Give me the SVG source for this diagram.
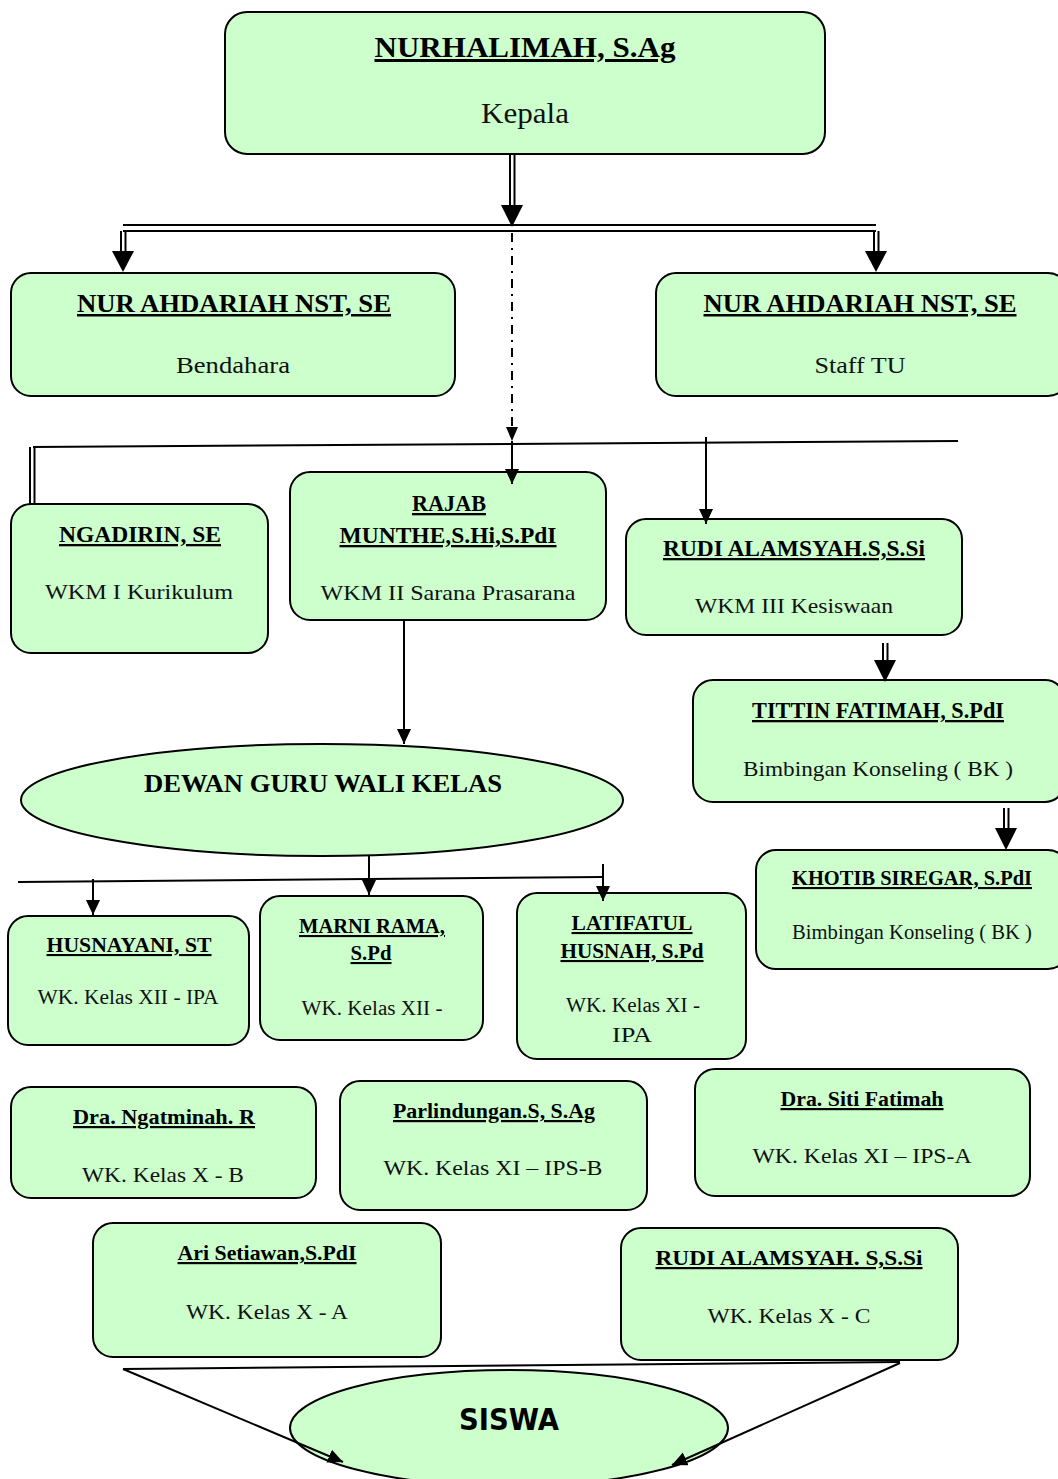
<svg xmlns="http://www.w3.org/2000/svg" width="1058" height="1479" viewBox="0 0 1058 1479">
<defs>
<style>
.box{fill:#ccffcc;stroke:#000;stroke-width:2}
.t{font-family:"Liberation Serif","Times New Roman",serif;font-weight:bold;text-decoration:underline;fill:#000;text-anchor:middle}
.s{font-family:"Liberation Serif","Times New Roman",serif;fill:#111;text-anchor:middle}
.ln{stroke:#000;stroke-width:2;fill:none}
.ah{fill:#000}
</style>
<marker id="arr" markerUnits="userSpaceOnUse" markerWidth="16" markerHeight="16" refX="15" refY="7" orient="auto"><path d="M0,0 L15,7 L0,14 z" fill="#000"/></marker>
</defs>
<rect width="1058" height="1479" fill="#fff"/>
<g id="kepala"><rect class="box" x="225" y="12" width="600" height="142" rx="22"/>
<text class="t" x="525" y="57" font-size="30" textLength="301" lengthAdjust="spacingAndGlyphs">NURHALIMAH, S.Ag</text>
<text class="s" x="525" y="123" font-size="29" textLength="88" lengthAdjust="spacingAndGlyphs">Kepala</text></g>
<g id="bendahara"><rect class="box" x="11" y="273" width="444" height="123" rx="20"/>
<text class="t" x="234" y="312" font-size="25" textLength="314" lengthAdjust="spacingAndGlyphs">NUR AHDARIAH NST, SE</text>
<text class="s" x="233" y="373" font-size="24" textLength="114" lengthAdjust="spacingAndGlyphs">Bendahara</text></g>
<g id="stafftu"><rect class="box" x="656" y="273" width="412" height="123" rx="20"/>
<text class="t" x="860" y="312" font-size="25" textLength="313" lengthAdjust="spacingAndGlyphs">NUR AHDARIAH NST, SE</text>
<text class="s" x="860" y="373" font-size="24" textLength="91" lengthAdjust="spacingAndGlyphs">Staff TU</text></g>
<g id="ngadirin"><rect class="box" x="11" y="504" width="257" height="149" rx="20"/>
<text class="t" x="140" y="542" font-size="23" textLength="162" lengthAdjust="spacingAndGlyphs">NGADIRIN, SE</text>
<text class="s" x="139" y="599" font-size="22" textLength="188" lengthAdjust="spacingAndGlyphs">WKM I Kurikulum</text></g>
<g id="rajab"><rect class="box" x="290" y="472" width="316" height="148" rx="20"/>
<text class="t" x="449" y="511" font-size="23" textLength="74" lengthAdjust="spacingAndGlyphs">RAJAB</text>
<text class="t" x="448" y="543" font-size="23" textLength="217" lengthAdjust="spacingAndGlyphs">MUNTHE,S.Hi,S.PdI</text>
<text class="s" x="448" y="600" font-size="22" textLength="255" lengthAdjust="spacingAndGlyphs">WKM II Sarana Prasarana</text></g>
<g id="rudi1"><rect class="box" x="626" y="519" width="336" height="116" rx="20"/>
<text class="t" x="794" y="556" font-size="23" textLength="262" lengthAdjust="spacingAndGlyphs">RUDI ALAMSYAH.S,S.Si</text>
<text class="s" x="794" y="613" font-size="22" textLength="198" lengthAdjust="spacingAndGlyphs">WKM III Kesiswaan</text></g>
<g id="tittin"><rect class="box" x="693" y="680" width="372" height="122" rx="20"/>
<text class="t" x="878" y="718" font-size="23" textLength="252" lengthAdjust="spacingAndGlyphs">TITTIN FATIMAH, S.PdI</text>
<text class="s" x="878" y="776" font-size="22" textLength="270" lengthAdjust="spacingAndGlyphs">Bimbingan Konseling ( BK )</text></g>
<g id="khotib"><rect class="box" x="756" y="850" width="312" height="119" rx="20"/>
<text class="t" x="912" y="885" font-size="21" textLength="240" lengthAdjust="spacingAndGlyphs">KHOTIB SIREGAR, S.PdI</text>
<text class="s" x="912" y="939" font-size="20" textLength="240" lengthAdjust="spacingAndGlyphs">Bimbingan Konseling ( BK )</text></g>
<g id="dewan"><ellipse class="box" cx="322" cy="800" rx="301" ry="56"/>
<text class="t" x="323" y="792" font-size="26" style="text-decoration:none" textLength="358" lengthAdjust="spacingAndGlyphs">DEWAN GURU WALI KELAS</text></g>
<g id="husnayani"><rect class="box" x="8" y="916" width="241" height="129" rx="20"/>
<text class="t" x="129" y="952" font-size="21" textLength="165" lengthAdjust="spacingAndGlyphs">HUSNAYANI, ST</text>
<text class="s" x="128" y="1004" font-size="20" textLength="181" lengthAdjust="spacingAndGlyphs">WK. Kelas XII - IPA</text></g>
<g id="marni"><rect class="box" x="260" y="896" width="223" height="144" rx="20"/>
<text class="t" x="372" y="933" font-size="21" textLength="146" lengthAdjust="spacingAndGlyphs">MARNI RAMA,</text>
<text class="t" x="371" y="960" font-size="21" textLength="41" lengthAdjust="spacingAndGlyphs">S.Pd</text>
<text class="s" x="372" y="1015" font-size="20" textLength="141" lengthAdjust="spacingAndGlyphs">WK. Kelas XII -</text></g>
<g id="latifatul"><rect class="box" x="517" y="893" width="229" height="166" rx="20"/>
<text class="t" x="632" y="930" font-size="21" textLength="121" lengthAdjust="spacingAndGlyphs">LATIFATUL</text>
<text class="t" x="632" y="958" font-size="21" textLength="143" lengthAdjust="spacingAndGlyphs">HUSNAH, S.Pd</text>
<text class="s" x="633" y="1012" font-size="20" textLength="134" lengthAdjust="spacingAndGlyphs">WK. Kelas XI -</text>
<text class="s" x="632" y="1042" font-size="21" textLength="40" lengthAdjust="spacingAndGlyphs">IPA</text></g>
<g id="ngatminah"><rect class="box" x="11" y="1087" width="305" height="111" rx="20"/>
<text class="t" x="164" y="1124" font-size="22" textLength="182" lengthAdjust="spacingAndGlyphs">Dra. Ngatminah. R</text>
<text class="s" x="163" y="1182" font-size="22" textLength="162" lengthAdjust="spacingAndGlyphs">WK. Kelas X - B</text></g>
<g id="parlindungan"><rect class="box" x="340" y="1081" width="307" height="129" rx="20"/>
<text class="t" x="494" y="1118" font-size="22" textLength="202" lengthAdjust="spacingAndGlyphs">Parlindungan.S, S.Ag</text>
<text class="s" x="493" y="1175" font-size="22" textLength="219" lengthAdjust="spacingAndGlyphs">WK. Kelas XI – IPS-B</text></g>
<g id="siti"><rect class="box" x="695" y="1069" width="335" height="127" rx="20"/>
<text class="t" x="862" y="1106" font-size="22" textLength="163" lengthAdjust="spacingAndGlyphs">Dra. Siti Fatimah</text>
<text class="s" x="862" y="1163" font-size="22" textLength="219" lengthAdjust="spacingAndGlyphs">WK. Kelas XI – IPS-A</text></g>
<g id="ari"><rect class="box" x="93" y="1223" width="348" height="134" rx="20"/>
<text class="t" x="267" y="1260" font-size="22" textLength="179" lengthAdjust="spacingAndGlyphs">Ari Setiawan,S.PdI</text>
<text class="s" x="267" y="1319" font-size="22" textLength="162" lengthAdjust="spacingAndGlyphs">WK. Kelas X - A</text></g>
<g id="rudi2"><rect class="box" x="621" y="1228" width="337" height="132" rx="20"/>
<text class="t" x="789" y="1265" font-size="22" textLength="267" lengthAdjust="spacingAndGlyphs">RUDI ALAMSYAH. S,S.Si</text>
<text class="s" x="789" y="1323" font-size="22" textLength="163" lengthAdjust="spacingAndGlyphs">WK. Kelas X - C</text></g>
<g id="siswa"><ellipse class="box" cx="509" cy="1428" rx="219" ry="58"/>
<text x="509" y="1430" font-family="'DejaVu Sans',sans-serif" font-weight="bold" font-size="30" text-anchor="middle" textLength="100" lengthAdjust="spacingAndGlyphs">SISWA</text></g>
<g id="connectors">
<line class="ln" x1="510" y1="154" x2="510" y2="206"/><line class="ln" x1="514.5" y1="154" x2="514.5" y2="206"/>
<polygon class="ah" points="501,205 523,205 512,227"/>
<line class="ln" x1="123" y1="225" x2="876" y2="225"/><line class="ln" x1="123" y1="231" x2="876" y2="231"/>
<line class="ln" x1="121" y1="231" x2="121" y2="253"/><line class="ln" x1="125.5" y1="231" x2="125.5" y2="253"/>
<polygon class="ah" points="112,251 134,251 123,272"/>
<line class="ln" x1="874" y1="231" x2="874" y2="253"/><line class="ln" x1="878.5" y1="231" x2="878.5" y2="253"/>
<polygon class="ah" points="865,251 887,251 876,272"/>
<line class="ln" x1="512" y1="233" x2="512" y2="428" stroke-dasharray="9,6,2,6"/>
<polygon class="ah" points="506,427 518,427 512,441"/>
<line class="ln" x1="512" y1="441" x2="512" y2="484" marker-end="url(#arr)"/>
<line class="ln" x1="33" y1="447" x2="958" y2="441"/>
<line class="ln" x1="30" y1="447" x2="30" y2="505"/><line class="ln" x1="34.5" y1="447" x2="34.5" y2="505"/>
<line class="ln" x1="706" y1="437" x2="706" y2="524" marker-end="url(#arr)"/>
<line class="ln" x1="883" y1="643" x2="883" y2="662"/><line class="ln" x1="887.5" y1="643" x2="887.5" y2="662"/>
<polygon class="ah" points="874,660 896,660 885,682"/>
<line class="ln" x1="1004" y1="808" x2="1004" y2="830"/><line class="ln" x1="1008.5" y1="808" x2="1008.5" y2="830"/>
<polygon class="ah" points="995,828 1017,828 1006,850"/>
<line class="ln" x1="404" y1="620" x2="404" y2="744" marker-end="url(#arr)"/>
<line class="ln" x1="369" y1="856" x2="369" y2="895" marker-end="url(#arr)"/>
<line class="ln" x1="18" y1="882" x2="603" y2="877"/>
<line class="ln" x1="93" y1="879" x2="93" y2="915" marker-end="url(#arr)"/>
<line class="ln" x1="603" y1="864" x2="603" y2="901" marker-end="url(#arr)"/>
<line class="ln" x1="123" y1="1369" x2="900" y2="1362"/>
<line class="ln" x1="123" y1="1369" x2="343" y2="1462" marker-end="url(#arr)"/>
<line class="ln" x1="900" y1="1363" x2="672" y2="1465" marker-end="url(#arr)"/>
</g>
</svg>
